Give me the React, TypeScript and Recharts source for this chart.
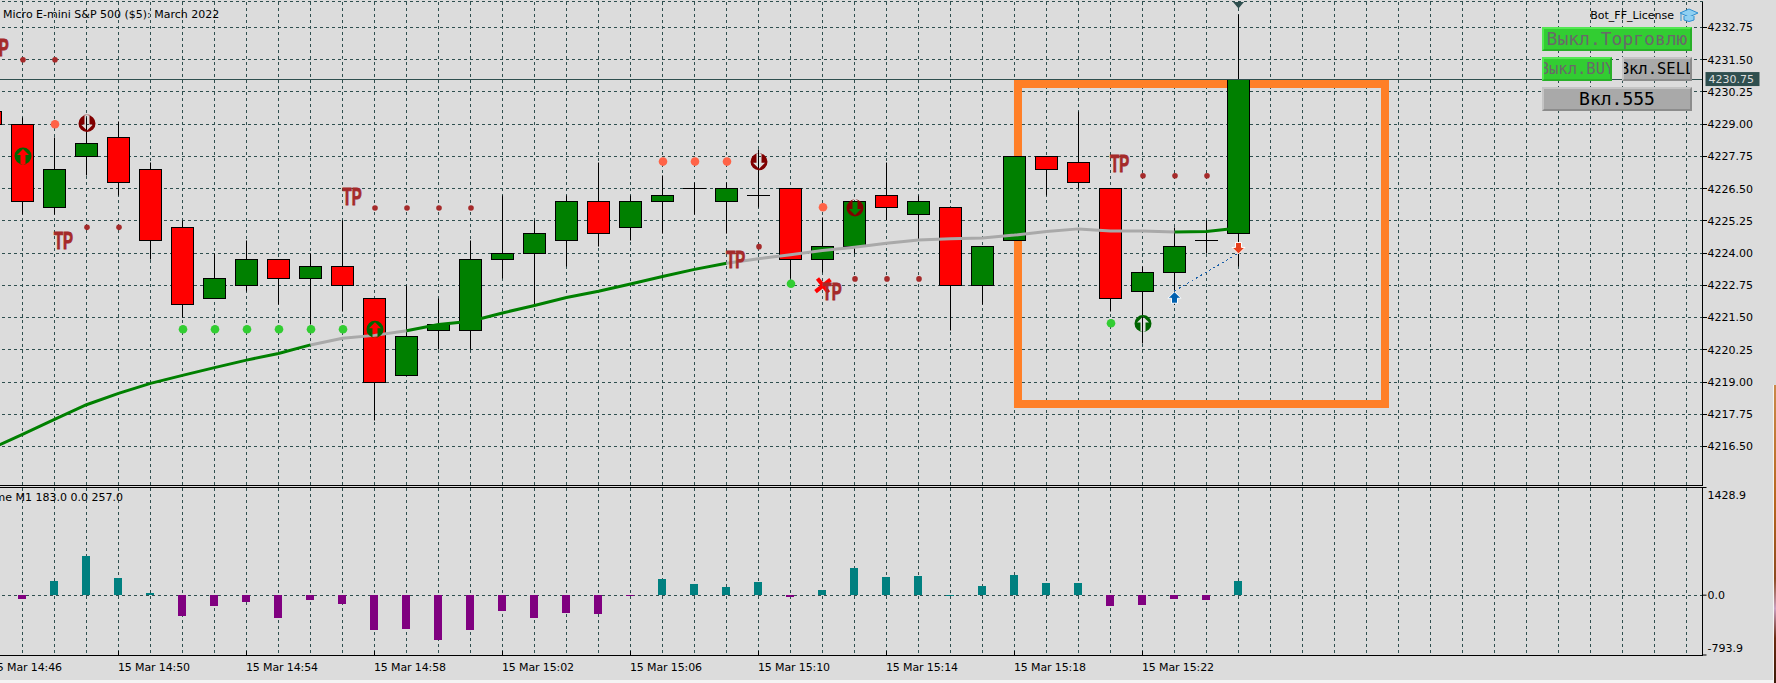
import * as React from "react";
import {
  Bar,
  CartesianGrid,
  ComposedChart,
  Line,
  ReferenceArea,
  ReferenceLine,
  Scatter,
  XAxis,
  YAxis,
} from "recharts";

const GRID = "#2f4f4f";
const BG = "#dcdcdc";
const UI_FONT = "'DejaVu Sans', sans-serif";
const MONO_FONT = "'DejaVu Sans Mono', monospace";

// bar numbers: 0 is 14:47, one bar a minute
const barIndex = [
  -1, 0, 1, 2, 3, 4, 5, 6, 7, 8, 9, 10, 11, 12, 13, 14, 15, 16, 17, 18, 19, 20,
  21, 22, 23, 24, 25, 26, 27, 28, 29, 30, 31, 32, 33, 34, 35, 36, 37, 38,
];
const opens = [
  4229.5, 4229, 4225.75, 4227.75, 4228.5, 4227.25, 4225, 4222.25, 4222.75,
  4223.75, 4223, 4223.5, 4222.25, 4219.25, 4221, 4221, 4223.75, 4224, 4224.5,
  4226, 4225, 4226, 4226.5, 4226, 4226.25, 4226.5, 4223.75, 4224.25, 4226.25,
  4225.5, 4225.75, 4222.75, 4224.5, 4227.75, 4227.5, 4226.5, 4222.5, 4223.25,
  4224.5, 4224.75,
];
const highs = [
  4229.5, 4229.25, 4228.5, 4229.25, 4229.1, 4227.5, 4225.25, 4224, 4224.5,
  4223.75, 4224, 4225.25, 4222.25, 4222.75, 4222.25, 4224.5, 4226.25, 4225.25,
  4226.25, 4227.5, 4226.25, 4227, 4226.75, 4226.75, 4228, 4226.5, 4225.4, 4226,
  4227.5, 4226.25, 4225.75, 4224.25, 4227.75, 4227.75, 4229.5, 4226.5, 4223.5,
  4225, 4225.25, 4233.25,
];
const lows = [
  4229, 4225.5, 4225.5, 4227, 4226.25, 4223.75, 4221.5, 4222.25, 4222.5, 4222,
  4221.25, 4221.75, 4217.5, 4219.25, 4220.25, 4220.25, 4223, 4222, 4223.5,
  4224.25, 4224.5, 4224.75, 4225.5, 4224.75, 4225.75, 4223, 4223.25, 4224,
  4225.25, 4224.5, 4221, 4222, 4224.5, 4226.25, 4226.5, 4221.75, 4220.5, 4222,
  4224, 4223.5,
];
const closes = [
  4229, 4226, 4227.25, 4228.25, 4226.75, 4224.5, 4222, 4223, 4223.75, 4223,
  4223.5, 4222.75, 4219, 4220.75, 4221.25, 4223.75, 4224, 4224.75, 4226,
  4224.75, 4226, 4226.25, 4226.5, 4226.5, 4226.25, 4223.75, 4224.25, 4226,
  4225.75, 4226, 4222.75, 4224.25, 4227.75, 4227.25, 4226.75, 4222.25, 4223.25,
  4224.25, 4224.5, 4230.75,
];
const movingAverage = [
  4216.41, 4216.97, 4217.55, 4218.12, 4218.56, 4218.95, 4219.26, 4219.56,
  4219.85, 4220.11, 4220.44, 4220.7, 4220.81, 4220.99, 4221.23, 4221.36,
  4221.68, 4221.97, 4222.28, 4222.52, 4222.8, 4223.09, 4223.37, 4223.61,
  4223.78, 4223.94, 4224.1, 4224.23, 4224.38, 4224.51, 4224.56, 4224.59, 4224.7,
  4224.84, 4224.94, 4224.86, 4224.86, 4224.82, 4224.84, 4224.97,
];
// stretches of bars where the average is drawn grey instead of green
const greyRuns = [
  [9, 12],
  [22, 36],
];
const volumes = [
  0, -49, 191, 524, 231, 31, -275, -142, -89, -302, -62, -115, -462, -448, -595,
  -462, -209, -302, -235, -249, -8, 217, 151, 111, 178, -22, 71, 364, 244, 257,
  6, 124, 271, 164, 164, -142, -129, -49, -62, 183,
];

const priceTicks = [
  4232.75, 4231.5, 4230.25, 4229, 4227.75, 4226.5, 4225.25, 4224, 4222.75,
  4221.5, 4220.25, 4219, 4217.75, 4216.5,
];
const volumeTicks = [1428.9, 0, -793.9];
const timeLabels: Record<number, string> = {
  [-1]: "15 Mar 14:46",
  3: "15 Mar 14:50",
  7: "15 Mar 14:54",
  11: "15 Mar 14:58",
  15: "15 Mar 15:02",
  19: "15 Mar 15:06",
  23: "15 Mar 15:10",
  27: "15 Mar 15:14",
  31: "15 Mar 15:18",
  35: "15 Mar 15:22",
};
const barTicks = Array.from({ length: 55 }, (_, i) => i - 2);

const lastPrice = 4230.75;
const brownDots = [
  [0, 4231.5], [1, 4231.5], [2, 4225], [3, 4225], [11, 4225.75], [12, 4225.75],
  [13, 4225.75], [14, 4225.75], [23, 4224.25], [26, 4223], [27, 4223], [28, 4223],
  [35, 4227], [36, 4227], [37, 4227],
];
const tomatoDots = [[1, 4229], [20, 4227.55], [21, 4227.55], [22, 4227.55], [25, 4225.78]];
const limeDots = [
  [5, 4221.05], [6, 4221.05], [7, 4221.05], [8, 4221.05], [9, 4221.05],
  [10, 4221.05], [24, 4222.81], [34, 4221.28],
];
const upCircles = [[0, 4227.77], [11, 4221.05], [35, 4221.27]];
const downCircles = [[2, 4229.03], [23, 4227.54], [26, 4225.75]];
const tpMarks = [
  [-0.73, 4231.99], [1.28, 4224.5], [10.3, 4226.2], [22.29, 4223.76],
  [25.3, 4222.52], [34.29, 4227.48],
];
const crossMarks = [[25, 4222.74]];
const buyArrows = [[36, 4222.25]];
const sellArrows = [[38, 4224.22]];
const tradeLink = [
  [36, 4222.53],
  [38, 4224],
];

const PRICE_MAX = 4233.758;
const PRICE_MIN = 4214.988;
const BAR_MIN = -2.703125;
const BAR_MAX = 52.5;
const highlightBox = { x1: 31.109, x2: 42.578, y1: 4218.15, y2: 4230.56 };

const candleRows = barIndex.map((k, i) => {
  const grey = greyRuns.some(([a, b]) => k >= a && k <= b);
  const greenEdge = greyRuns.some(([a, b]) => k === a || k === b);
  return {
    k,
    range: [lows[i], highs[i]],
    open: opens[i],
    close: closes[i],
    high: highs[i],
    low: lows[i],
    maGreen: !grey || greenEdge ? movingAverage[i] : null,
    maGrey: grey ? movingAverage[i] : null,
  };
});
const volumeRows = barIndex.map((k, i) => ({ k, volume: volumes[i] }));

const toPoints = (list: number[][]) => list.map(([k, price]) => ({ k, price }));
const snap = (v: number) => Math.floor(v) + 0.5;

const Candle = (props: any) => {
  const { x, y, width, height, payload } = props;
  const { open, close, high, low } = payload;
  const perUnit = height / (high - low);
  const at = (p: number) => y + (high - p) * perUnit;
  const cx = snap(x + width / 2);
  const left = cx - 11;
  const top = snap(at(Math.max(open, close)));
  const bottom = snap(at(Math.min(open, close)));
  const wick = (
    <line x1={cx} x2={cx} y1={snap(at(high))} y2={snap(at(low))} stroke="#000" strokeWidth={1} />
  );
  if (open === close) {
    return (
      <g>
        {wick}
        <line x1={left - 0.5} x2={left + 22.5} y1={top} y2={top} stroke="#000" strokeWidth={1} />
      </g>
    );
  }
  return (
    <g>
      {wick}
      <rect
        x={left}
        y={top}
        width={22}
        height={bottom - top}
        fill={close > open ? "#008000" : "#ff0000"}
        stroke="#000"
        strokeWidth={1}
      />
    </g>
  );
};

const VolumeBar = (props: any) => {
  const { x, y, width, height, payload } = props;
  const top = Math.round(Math.min(y, y + height));
  const h = Math.max(1, Math.round(Math.abs(height)));
  return (
    <rect
      x={Math.floor(x)}
      y={top}
      width={8}
      height={h}
      fill={payload.volume >= 0 ? "#008080" : "#800080"}
    />
  );
};

const dot = (r: number, fill: string) => (props: any) => (
  <circle cx={props.cx + 0.5} cy={props.cy} r={r} fill={fill} />
);

const circleArrow = (fill: string, flip: boolean) => (props: any) => (
  <path
    transform={`translate(${props.cx + 0.5} ${props.cy}) scale(1 ${flip ? -1 : 1})`}
    fillRule="evenodd"
    fill={fill}
    d="M -8.5 0 A 8.5 8.5 0 1 0 8.5 0 A 8.5 8.5 0 1 0 -8.5 0 Z M 0 -7 L 6 -1 L 2.5 -1 L 2.5 8.6 L -2.5 8.6 L -2.5 -1 L -6 -1 Z"
  />
);

const TpMark = (props: any) => (
  <text
    x={props.cx}
    y={props.cy + 8.5}
    textAnchor="middle"
    fill="#a52a2a"
    stroke="#a52a2a"
    strokeWidth={0.9}
    fontFamily="'Liberation Sans', sans-serif"
    fontWeight="bold"
    fontSize={23}
    textLength={19}
    lengthAdjust="spacingAndGlyphs"
  >
    TP
  </text>
);

const CrossMark = (props: any) => (
  <g stroke="#ff0000" strokeWidth={4} transform={`translate(${props.cx} ${props.cy})`}>
    <line x1={-7} y1={6} x2={8} y2={-6} />
    <line x1={-5} y1={-7} x2={6} y2={7} />
  </g>
);

const arrowMark = (fill: string, flip: boolean) => (props: any) => (
  <path
    transform={`translate(${props.cx} ${props.cy}) scale(1 ${flip ? -1 : 1})`}
    fill={fill}
    stroke="#fff"
    strokeWidth={1}
    d="M 0 -6.5 L 6.5 0 L 3 0 L 3 5 L -3 5 L -3 0 L -6.5 0 Z"
  />
);

const TopMarker = (props: any) => (
  <path
    transform={`translate(${props.cx} ${props.cy})`}
    fill={GRID}
    d="M -5.5 0.5 L 5.5 0.5 L 0 7 Z"
  />
);

const PriceTag = (props: any) => {
  const { viewBox } = props;
  const right = viewBox.x + viewBox.width;
  return (
    <g>
      <rect x={right + 3} y={viewBox.y - 7} width={54} height={14} fill={GRID} />
      <text
        x={right + 6}
        y={viewBox.y + 4}
        fill={BG}
        fontFamily={UI_FONT}
        fontSize={11}
      >
        {lastPrice.toFixed(2)}
      </text>
    </g>
  );
};

const NoTick = () => null;

const TimeTick = (props: any) => {
  const { x, y, payload } = props;
  const label = timeLabels[payload.value];
  if (!label) return null;
  return (
    <g>
      <line x1={snap(x)} x2={snap(x)} y1={y - 4} y2={y} stroke="#000" />
      <text
        x={x - 0.5}
        y={y + 16}
        fill="#000"
        fontFamily={UI_FONT}
        fontSize={11}
        textLength={72}
        lengthAdjust="spacing"
      >
        {label}
      </text>
    </g>
  );
};

const VolumeTick = (props: any) => {
  const { x, y, payload } = props;
  const v = payload.value;
  const shift = v > 0 ? 7 : v < 0 ? -7 : 0;
  return (
    <g>
      <line x1={x} x2={x + 4} y1={y} y2={y} stroke="#000" />
      <text x={x + 5} y={y + shift + 4} fill="#000" fontFamily={UI_FONT} fontSize={11}>
        {v.toFixed(1)}
      </text>
    </g>
  );
};

const TopButton = ({ left, top, width, label, on, size }: any) => (
  <div
    style={{
      position: "absolute",
      left,
      top,
      width,
      height: 24,
      boxSizing: "border-box",
      background: on ? "#32cd32" : "#a9a9a9",
      borderTop: `2px solid ${on ? "#52e852" : "#c4c4c4"}`,
      borderLeft: `2px solid ${on ? "#52e852" : "#c4c4c4"}`,
      borderBottom: `2px solid ${on ? "#28b028" : "#8c8c8c"}`,
      borderRight: `2px solid ${on ? "#28b028" : "#8c8c8c"}`,
      color: on ? "#696969" : "#000",
      fontFamily: MONO_FONT,
      fontSize: size,
      lineHeight: "20px",
      whiteSpace: "nowrap",
      overflow: "hidden",
      display: "flex",
      justifyContent: "center",
    }}
  >
    <span style={{ flex: "none" }}>{label}</span>
  </div>
);

export default function App() {
  return (
    <div
      style={{
        position: "absolute",
        left: 0,
        top: 0,
        width: 1776,
        height: 683,
        background: BG,
        overflow: "hidden",
      }}
    >
      <style>{`.recharts-cartesian-grid line, .recharts-reference-line line, .recharts-cartesian-axis-line, .recharts-cartesian-axis-tick-line { shape-rendering: crispEdges; }`}</style>

      <div style={{ position: "absolute", left: -64, top: 0 }}>
        <ComposedChart
          width={1840}
          height={487}
          data={candleRows}
          margin={{ top: 1.5, right: 0, bottom: 1.5, left: 0 }}
        >
          <CartesianGrid stroke={GRID} strokeDasharray="3 3" />
          <XAxis
            xAxisId={0}
            dataKey="k"
            type="number"
            orientation="top"
            height={0}
            domain={[BAR_MIN, BAR_MAX]}
            ticks={barTicks}
            interval={0}
            allowDataOverflow
            tick={NoTick}
            tickLine={false}
            axisLine={{ stroke: "#000" }}
          />
          <YAxis
            orientation="right"
            type="number"
            width={73.5}
            domain={[PRICE_MIN, PRICE_MAX]}
            ticks={priceTicks}
            interval={0}
            allowDataOverflow
            tickSize={4}
            tickMargin={1}
            tickFormatter={(v: number) => v.toFixed(2)}
            tick={{ fill: "#000", fontFamily: UI_FONT, fontSize: 11 }}
            stroke="#000"
          />
          <ReferenceLine y={PRICE_MIN} stroke="#000" ifOverflow="visible" />
          <ReferenceLine y={lastPrice} stroke={GRID} label={PriceTag} />
          <Bar dataKey="range" barSize={22} shape={Candle} isAnimationActive={false} />
          <Line
            dataKey="maGreen"
            stroke="#008000"
            strokeWidth={3}
            dot={false}
            isAnimationActive={false}
          />
          <Line
            dataKey="maGrey"
            stroke="#a9a9a9"
            strokeWidth={3}
            dot={false}
            isAnimationActive={false}
          />
          <Scatter data={toPoints(brownDots)} dataKey="price" shape={dot(2.8, "#a52a2a")} isAnimationActive={false} />
          <Scatter data={toPoints(tomatoDots)} dataKey="price" shape={dot(4.3, "#ff6347")} isAnimationActive={false} />
          <Scatter data={toPoints(limeDots)} dataKey="price" shape={dot(4.3, "#32cd32")} isAnimationActive={false} />
          <Scatter data={toPoints(upCircles)} dataKey="price" shape={circleArrow("#006400", false)} isAnimationActive={false} />
          <Scatter data={toPoints(downCircles)} dataKey="price" shape={circleArrow("#800000", true)} isAnimationActive={false} />
          <Scatter data={toPoints(crossMarks)} dataKey="price" shape={CrossMark} isAnimationActive={false} />
          <Scatter data={toPoints(tpMarks)} dataKey="price" shape={TpMark} isAnimationActive={false} />
          <ReferenceLine
            segment={tradeLink.map(([x, y]) => ({ x, y }))}
            stroke="#1a5fa8"
            strokeDasharray="2 3"
          />
          <Scatter data={toPoints(buyArrows)} dataKey="price" shape={arrowMark("#0060b0", false)} isAnimationActive={false} />
          <Scatter data={toPoints(sellArrows)} dataKey="price" shape={arrowMark("#e8401c", true)} isAnimationActive={false} />
          <Scatter data={[{ k: 38, price: PRICE_MAX }]} dataKey="price" shape={TopMarker} isAnimationActive={false} />
          <ReferenceArea
            {...highlightBox}
            fill="none"
            stroke="#ff7f27"
            strokeWidth={8}
            strokeOpacity={1}
            ifOverflow="visible"
          />
        </ComposedChart>
      </div>

      <div style={{ position: "absolute", left: -64, top: 487 }}>
        <ComposedChart
          width={1840}
          height={193}
          data={volumeRows}
          margin={{ top: 0.5, right: 0, bottom: 0, left: 0 }}
        >
          <CartesianGrid stroke={GRID} strokeDasharray="3 3" />
          <XAxis
            dataKey="k"
            type="number"
            height={25}
            domain={[BAR_MIN, BAR_MAX]}
            ticks={barTicks}
            interval={0}
            allowDataOverflow
            tickSize={0}
            tickMargin={0}
            tickLine={false}
            tick={TimeTick}
            axisLine={{ stroke: "#000" }}
          />
          <YAxis
            orientation="right"
            type="number"
            width={73.5}
            domain={[-793.9, 1428.9]}
            ticks={volumeTicks}
            interval={0}
            allowDataOverflow
            tickSize={0}
            tickMargin={0}
            tickLine={false}
            tick={VolumeTick}
            stroke="#000"
          />
          <ReferenceLine y={1428.9} stroke="#000" />
          <Bar dataKey="volume" barSize={8} shape={VolumeBar} isAnimationActive={false} />
        </ComposedChart>
      </div>

      <div
        style={{
          position: "absolute",
          left: 3,
          top: 8,
          font: `11px ${UI_FONT}`,
          lineHeight: "14px",
          whiteSpace: "nowrap",
        }}
      >
        Micro E-mini S&amp;P 500 ($5): March 2022
      </div>
      <div
        style={{
          position: "absolute",
          right: 1776 - 123,
          top: 491,
          font: `11px ${UI_FONT}`,
          lineHeight: "14px",
          whiteSpace: "nowrap",
        }}
      >
        Volume M1 183.0 0.0 257.0
      </div>
      <div
        style={{
          position: "absolute",
          right: 1776 - 1674,
          top: 9,
          font: `11px ${UI_FONT}`,
          lineHeight: "14px",
          whiteSpace: "nowrap",
        }}
      >
        Bot_FF_License
      </div>
      <svg style={{ position: "absolute", left: 1679, top: 7 }} width={20} height={17}>
        <path d="M1 6 L10 2 L19 6 L10 10 Z" fill="#8fd0f2" stroke="#2f8fd0" />
        <path d="M5 9 L5 13 Q10 16 15 13 L15 9" fill="#8fd0f2" stroke="#2f8fd0" />
        <line x1="2" y1="7" x2="2" y2="14" stroke="#2f8fd0" />
      </svg>

      <TopButton left={1542} top={27} width={150} label="Выкл.Торговлю" on size={18} />
      <TopButton left={1542} top={57} width={70} label="Выкл.BUY" on size={15.5} />
      <TopButton left={1622} top={57} width={70} label="Вкл.SELL" size={15.5} />
      <TopButton left={1542} top={87} width={150} label="Вкл.555" size={18} />

      <div style={{ position: "absolute", left: 0, top: 680, width: 1776, height: 3, background: "#f4f4f4" }} />
      <div style={{ position: "absolute", left: 1773, top: 385, width: 1, height: 295, background: "#f4f4f4" }} />
      <div
        style={{
          position: "absolute",
          left: 1774,
          top: 385,
          width: 2,
          height: 298,
          background: "linear-gradient(#c98a4a, #b5651d 40%, #8a4a20 65%, #c9a0c0 75%, #6a2a10 85%, #3a1a08)",
        }}
      />
    </div>
  );
}
